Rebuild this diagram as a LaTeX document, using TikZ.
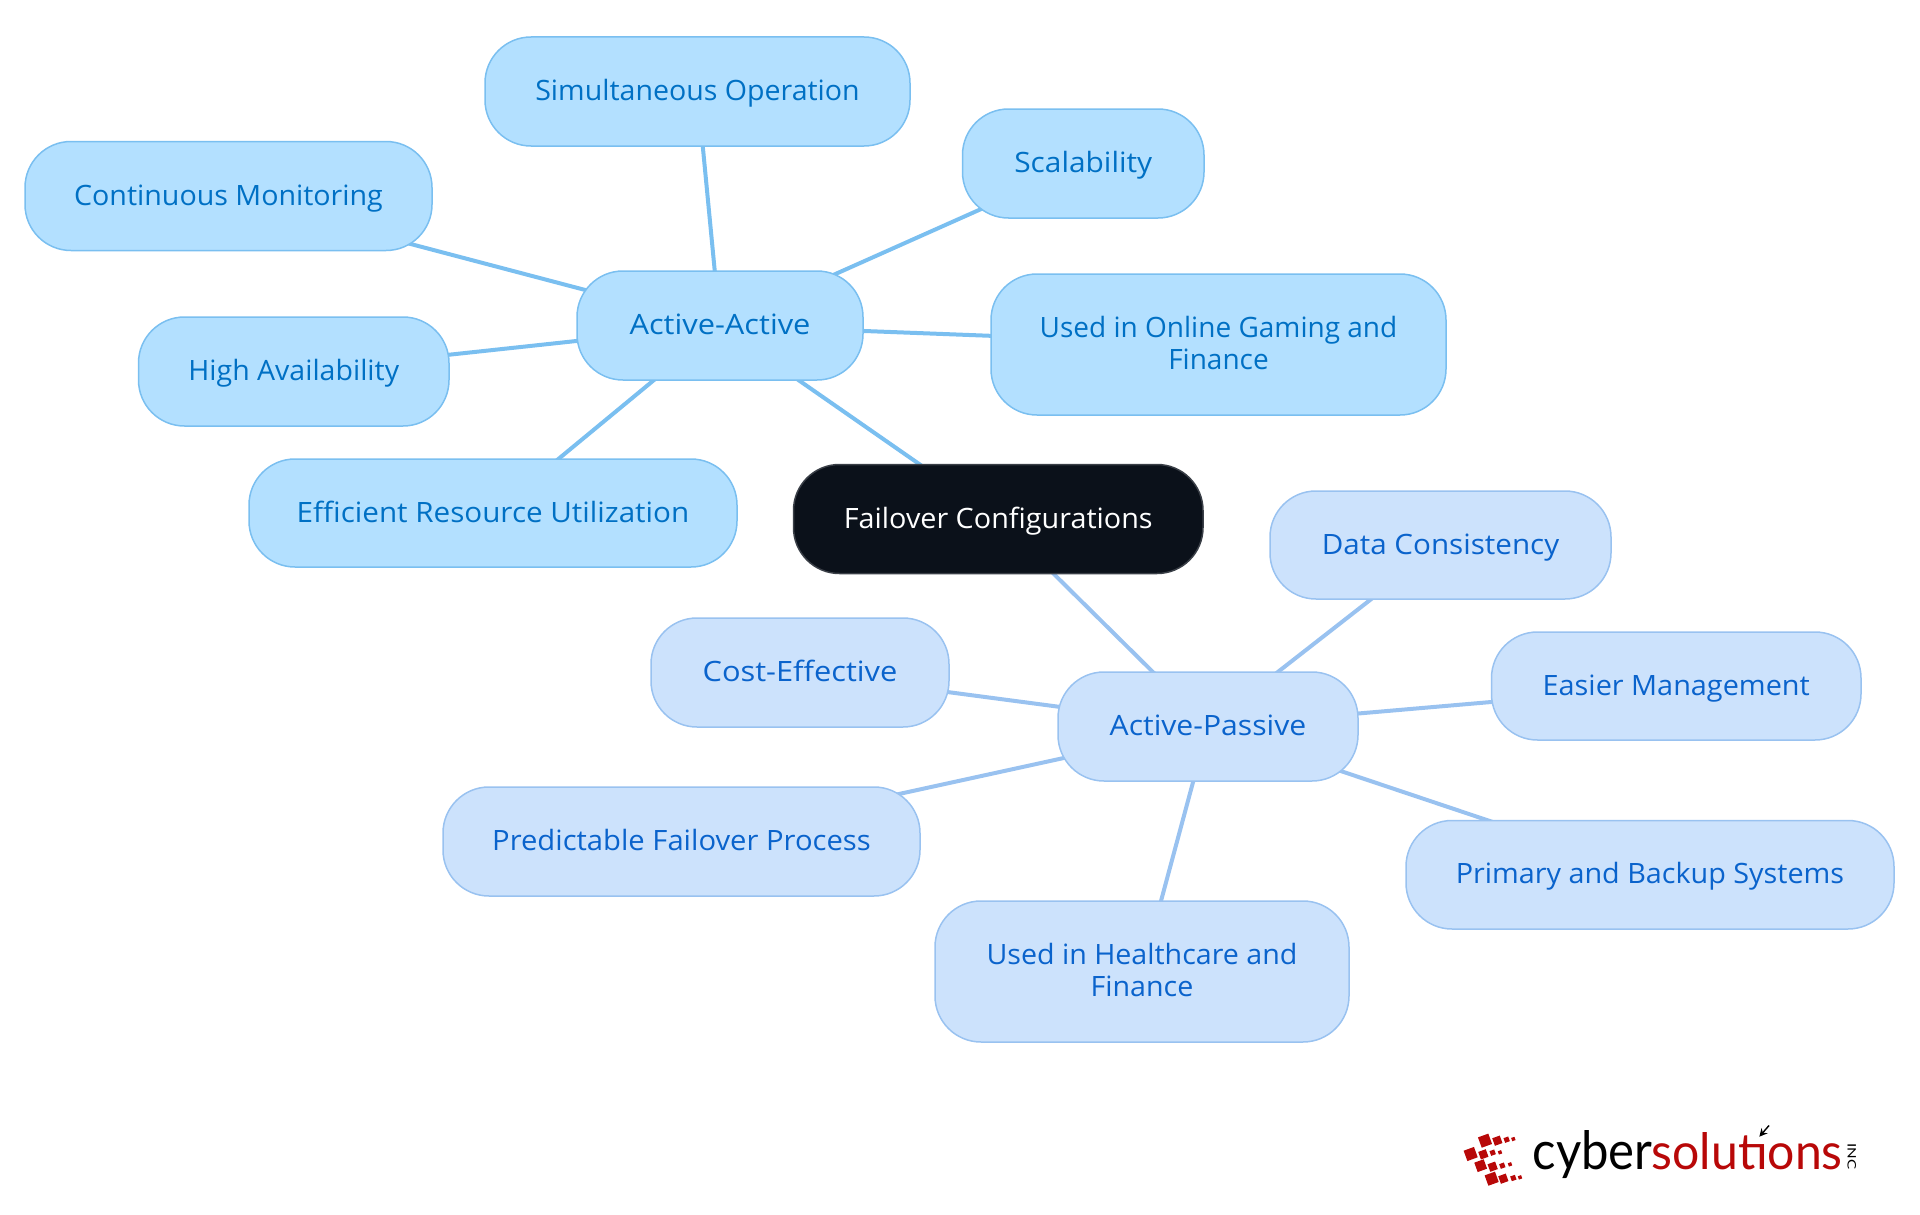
\documentclass[tikz,border=0pt]{standalone}
\usepackage{fontspec}
\usepackage{graphicx}
\usetikzlibrary{arrows.meta,backgrounds}
\setmainfont{Open Sans}
\newfontfamily\logofont{Lato}
\definecolor{aaF}{HTML}{B3E0FF}
\definecolor{aaD}{HTML}{7ABFF0}
\definecolor{aaT}{HTML}{0070C4}
\definecolor{apF}{HTML}{CCE2FC}
\definecolor{apD}{HTML}{99C2F0}
\definecolor{apT}{HTML}{0A63CC}
\definecolor{rootF}{HTML}{0B111A}
\definecolor{rootD}{HTML}{3A3F47}
\definecolor{logoR}{HTML}{B80808}
\newcommand{\boxnode}[8]{% style,name,x0,y0,x1,y1,xscale,text
  \pgfmathsetmacro{\bw}{#5-#3}\pgfmathsetmacro{\bh}{#6-#4}
  \node[#1,minimum width=\bw pt,minimum height=\bh pt] (#2) at ({(#3+#5)/2},{(#4+#6)/2})
    {\raisebox{-2.5pt}[\height][\depth]{\scalebox{#7}[1]{\begin{tabular}{@{}c@{}}#8\end{tabular}}}};}
\tikzset{
  x=1pt,y=-1pt,
  nodeshape/.style={rectangle,line width=1.5pt,rounded corners=46pt,inner sep=0pt,
    font=\fontsize{28}{32.5}\selectfont},
  aa/.style={nodeshape,draw=aaD,fill=aaF,text=aaT},
  ap/.style={nodeshape,draw=apD,fill=apF,text=apT},
  rt/.style={nodeshape,draw=rootD,fill=rootF,text=white},
  aalink/.style={line width=4pt,draw=aaD},
  aplink/.style={line width=4pt,draw=apD},
  sq/.style={fill=logoR,rotate=20,minimum size=#1,inner sep=0pt},
  lgt/.style={inner sep=0pt,anchor=base west,font=\logofont\fontsize{56}{56}\selectfont},
}
\begin{document}
\begin{tikzpicture}
\useasboundingbox (0,0) rectangle (1920,1215);
\boxnode{rt}{root}{793.5}{464.5}{1203}{573.5}{1.027}{Failover Configurations}
\boxnode{aa}{actA}{577}{271}{863}{380}{1.10}{Active-Active}
\boxnode{aa}{a1}{485}{37}{910}{146}{1.02}{Simultaneous Operation}
\boxnode{aa}{a2}{962.5}{109}{1204}{218}{1.067}{Scalability}
\boxnode{aa}{a3}{25}{141.5}{432}{250.5}{1.022}{Continuous Monitoring}
\boxnode{aa}{a4}{138.5}{317}{449}{426}{1.018}{High Availability}
\boxnode{aa}{a5}{991}{274}{1446}{415}{1.0}{Used in Online Gaming and\\Finance}
\boxnode{aa}{a6}{249}{459}{737}{567}{1.058}{Efficient Resource Utilization}
\boxnode{ap}{actP}{1058}{672}{1358}{781}{1.076}{Active-Passive}
\boxnode{ap}{p1}{1270}{491}{1611}{599}{1.058}{Data Consistency}
\boxnode{ap}{p2}{1491.5}{632}{1861}{740}{1.03}{Easier Management}
\boxnode{ap}{p3}{651}{618}{949}{727}{1.10}{Cost-Effective}
\boxnode{ap}{p4}{443}{787}{920}{896}{1.043}{Predictable Failover Process}
\boxnode{ap}{p5}{1406}{820.5}{1894}{929}{1.027}{Primary and Backup Systems}
\boxnode{ap}{p6}{935}{901}{1349}{1042}{1.022}{Used in Healthcare and\\Finance}
\begin{pgfonlayer}{background}
\draw[aalink] (root.center)--(actA.center);
\foreach \n in {a1,a2,a3,a4,a5,a6} \draw[aalink] (actA.center)--(\n.center);
\draw[aplink] (root.center)--(actP.center);
\foreach \n in {p1,p2,p3,p4,p5,p6} \draw[aplink] (actP.center)--(\n.center);
\end{pgfonlayer}
% logo
\foreach \zx/\zy/\s in {135/122/11,172/122/8,200/119/5,220/117/3.5,
  92/162/11,130/163/8,158/158/5,180/157/3.5,
  122/197/10,158/200/8,187/197/5,210/193/3.5,
  155/236/11,190/236/8,220/234/5,240/232/3.5}
  \node[sq=\s pt] at ({1440+\zx/3},{1100+\zy/3}) {};
\node[lgt,text=black] (lg1) at (1532.5,1169.5) {\resizebox{120pt}{39pt}{cyber}};
\node[lgt,text=logoR] (lg2) at (1651.5,1169.5) {\resizebox{191pt}{37pt}{solut\i ons}};
\draw[black,line width=1.4pt,-{Stealth[length=8pt,width=8pt]}] (1769,1125.5) -- (1759.3,1136.7);
\node[inner sep=0pt,text=black,rotate=-90,font=\logofont\fontsize{12}{12}\selectfont] (lg3) at (1851.7,1156.3) {\resizebox{26pt}{8.5pt}{INC}};
\end{tikzpicture}
\end{document}
